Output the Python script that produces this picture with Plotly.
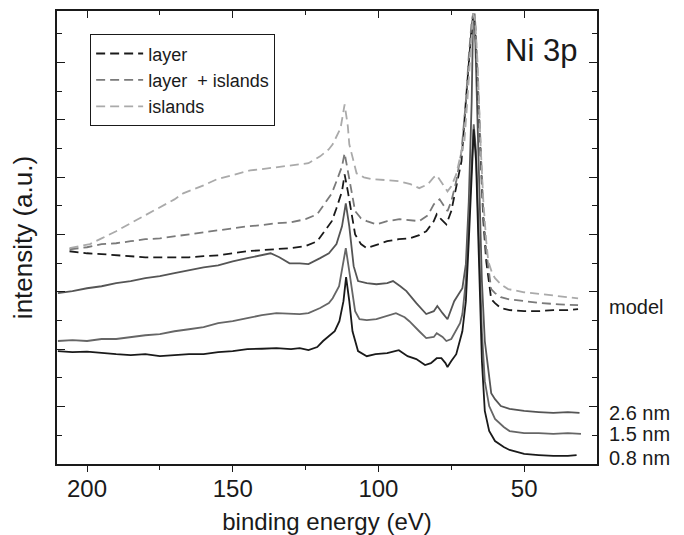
import plotly.graph_objects as go

# ---------------- data (binding energy in eV, intensity in a.u.) ----------------
E_08 = [210, 205, 200, 195, 190, 185, 180, 175, 170, 165, 160, 155, 150, 145, 140, 135, 130, 127, 124, 121,
        119, 117, 115, 113.4, 112, 111.1, 110, 108.9, 107, 104, 101, 97, 93, 90, 87, 84, 82, 80, 78.4, 77,
        76.3, 75, 73.3, 71.2, 70, 69, 68, 67.3, 66.5, 65.5, 64.5, 63.5, 62, 60, 57, 55, 50, 45, 40, 35, 32]
I_08 = [3.94, 3.90, 3.92, 3.87, 3.83, 3.80, 3.83, 3.76, 3.80, 3.83, 3.83, 3.90, 3.94, 4.01, 4.02, 4.04, 4.01, 4.04, 3.97, 4.08,
        4.29, 4.46, 4.63, 4.98, 5.68, 6.52, 5.68, 4.63, 3.94, 3.76, 3.83, 3.87, 3.97, 3.76, 3.66, 3.45, 3.52, 3.69, 3.69, 3.52,
        3.38, 3.59, 3.83, 4.63, 5.68, 7.77, 10.21, 11.67, 10.56, 7.07, 3.59, 1.85, 1.15, 0.80, 0.59, 0.49, 0.35, 0.31, 0.28, 0.28, 0.31]

E_15 = [210, 205, 200, 195, 190, 185, 180, 175, 170, 165, 160, 155, 150, 145, 140, 135, 130, 127, 124, 120,
        117, 115.7, 113.5, 112.7, 111.2, 110, 108, 106.5, 104, 100.7, 97, 94, 91, 89.4, 86, 83.6, 81, 80, 78, 76.7,
        75, 74, 72, 71.2, 70, 69, 68, 67.3, 66.5, 65.5, 64.5, 63.5, 62, 60, 57, 55, 50, 45, 40, 35, 30.5]
I_15 = [4.29, 4.32, 4.29, 4.36, 4.36, 4.43, 4.49, 4.53, 4.63, 4.70, 4.77, 4.91, 4.98, 5.09, 5.19, 5.26, 5.23, 5.23, 5.26, 5.44,
        5.61, 5.78, 6.20, 6.72, 7.53, 6.72, 5.33, 5.05, 5.02, 5.05, 5.16, 5.26, 5.12, 4.98, 4.63, 4.39, 4.43, 4.56, 4.43, 4.29,
        4.36, 4.53, 4.91, 5.23, 6.38, 8.47, 10.56, 11.85, 10.91, 7.77, 4.63, 2.89, 2.02, 1.57, 1.29, 1.15, 1.08, 1.08, 1.05, 1.08, 1.05]

E_26 = [210, 205, 200, 195, 190, 185, 180, 175, 170, 165, 160, 155, 150, 145, 140, 137, 134, 130.5, 127, 124,
        120, 117, 114.4, 112.5, 111.2, 110, 108.5, 107, 104, 100.7, 97, 95, 92.5, 90.4, 87, 83.6, 81, 79.8, 78, 76.3,
        74, 71.2, 70, 69, 68, 67.5, 67, 66.2, 65.5, 64.5, 63.5, 62, 61.3, 60, 58, 55, 50, 45, 40, 35, 31]
I_26 = [5.96, 6.03, 6.13, 6.20, 6.31, 6.38, 6.48, 6.55, 6.66, 6.76, 6.86, 6.93, 7.07, 7.18, 7.28, 7.35, 7.21, 7.00, 7.00, 6.97,
        7.18, 7.35, 7.67, 8.29, 9.09, 8.29, 6.90, 6.38, 6.31, 6.27, 6.31, 6.38, 6.20, 6.03, 5.61, 5.23, 5.33, 5.51, 5.26, 5.05,
        5.68, 6.13, 6.97, 9.16, 12.65, 15.68, 15.68, 12.65, 9.86, 6.38, 4.29, 3.07, 2.47, 2.26, 2.02, 1.92, 1.85, 1.81, 1.78, 1.81, 1.78]

E_layer = [206, 200, 195, 190, 185, 180, 175, 170, 165, 160, 155, 150, 145, 140, 135, 130, 125, 121, 118, 116,
           114.4, 112.5, 111.6, 110.5, 108, 106, 104, 100, 97, 93, 89.4, 86, 83.6, 81, 80, 78.5, 76.7, 75, 73.3, 71.5,
           70, 69, 68, 67.5, 66.8, 66, 65, 64, 63, 62, 61.3, 60, 58, 55, 50, 45, 40, 35, 31.5]
I_layer = [7.42, 7.35, 7.32, 7.28, 7.25, 7.21, 7.21, 7.21, 7.21, 7.25, 7.28, 7.35, 7.42, 7.46, 7.49, 7.53, 7.60, 7.77, 8.19, 8.47,
           8.92, 9.51, 10.10, 9.51, 8.01, 7.67, 7.53, 7.67, 7.77, 7.84, 7.87, 7.98, 8.12, 8.47, 8.71, 8.54, 8.36, 8.82, 9.62, 10.56,
           12.65, 14.04, 15.26, 15.61, 15.26, 13.34, 10.56, 8.47, 7.07, 6.20, 5.75, 5.61, 5.44, 5.37, 5.33, 5.33, 5.37, 5.37, 5.40]

E_mix = [206, 200, 195, 190, 185, 180, 175, 170, 165, 160, 155, 150, 145, 140, 135, 130, 125, 121, 118, 116,
         114.4, 112.5, 111.6, 110.5, 108, 106, 104, 100.7, 97, 92.8, 89, 86, 83, 81, 79, 77.5, 76.3, 75, 73.3, 71.5,
         70, 69, 68, 67.5, 66.8, 66, 65, 64, 63, 62, 61.3, 60, 58, 55.5, 50, 44, 38, 31.5]
I_mix = [7.49, 7.56, 7.67, 7.70, 7.77, 7.84, 7.87, 7.94, 8.01, 8.08, 8.15, 8.22, 8.29, 8.33, 8.40, 8.43, 8.54, 8.71, 9.16, 9.44,
         9.86, 10.38, 10.84, 10.21, 8.82, 8.57, 8.47, 8.36, 8.47, 8.54, 8.50, 8.47, 8.68, 9.06, 9.23, 8.99, 8.82, 9.16, 9.86, 10.91,
         12.65, 14.22, 15.44, 15.71, 15.44, 13.69, 10.91, 8.82, 7.42, 6.55, 6.10, 5.96, 5.82, 5.75, 5.68, 5.61, 5.57, 5.54]

E_isl = [206, 203, 199, 195, 190, 185, 180, 175, 170, 167, 160, 155.5, 150, 144, 138, 133, 128, 124, 120, 117,
         115.7, 114, 113, 111.6, 110.5, 110, 108.5, 107.5, 105, 102, 97, 92.8, 89, 86, 83, 81, 80, 78, 76.3, 75,
         73.3, 71.5, 70.5, 69.5, 68.5, 67.5, 66.8, 66, 65, 64, 63, 62.3, 61, 60, 58, 55.5, 50, 44, 38, 31.5]
I_isl = [7.53, 7.60, 7.67, 7.87, 8.12, 8.40, 8.68, 8.95, 9.23, 9.44, 9.72, 9.93, 10.07, 10.24, 10.31, 10.38, 10.45, 10.49, 10.73, 10.98,
         11.15, 11.50, 11.71, 12.54, 11.78, 11.15, 10.56, 10.14, 10.00, 9.93, 9.90, 9.86, 9.76, 9.62, 9.76, 10.00, 10.07, 9.79, 9.51, 9.69,
         10.10, 10.91, 11.25, 12.65, 14.39, 15.71, 15.44, 14.04, 11.25, 9.16, 7.77, 7.07, 6.66, 6.48, 6.27, 6.10, 5.99, 5.92, 5.85, 5.78]

legend_names = ["layer", "layer  + islands", "islands"]
side_labels = ["model", "2.6 nm", "1.5 nm", "0.8 nm"]
side_label_y = [5.47, 1.78, 1.05, 0.21]
x_ticks = [200, 150, 100, 50]
x_minor = [175, 125, 75]

FONT = "Liberation Sans, Arial, sans-serif"
INK = "#1a1a1a"

fig = go.Figure()

solid = [(E_26, I_26, "#555555"), (E_15, I_15, "#666666"), (E_08, I_08, INK)]
for ex, iy, col in solid:
    fig.add_trace(go.Scatter(x=ex, y=iy, mode="lines", showlegend=False,
                             line=dict(color=col, width=1.8)))

dashed = [(E_layer, I_layer, INK, legend_names[0]),
          (E_mix, I_mix, "#7a7a7a", legend_names[1]),
          (E_isl, I_isl, "#aaaaaa", legend_names[2])]
for ex, iy, col, nm in dashed:
    fig.add_trace(go.Scatter(x=ex, y=iy, mode="lines", name=nm,
                             line=dict(color=col, width=1.8, dash="9px,5px")))

XR = [210.3, 25]
YR = [0, 15.8]

# the page body adds an 8 px offset, so the figure is sized to fit the window
fig.update_layout(
    width=676, height=527,
    margin=dict(l=49, r=87, t=3, b=71),
    paper_bgcolor="white", plot_bgcolor="white",
    font=dict(family=FONT, size=20, color=INK),
    showlegend=True,
    legend=dict(x=0.061, y=0.949, xanchor="left", yanchor="top",
                bordercolor=INK, borderwidth=1.2, bgcolor="white",
                font=dict(size=18), tracegroupgap=0, itemwidth=47),
    xaxis=dict(range=XR, tickvals=x_ticks, ticks="outside", ticklen=6, tickwidth=1.3,
               tickcolor=INK, showline=True, linecolor=INK, linewidth=1.6,
               showgrid=False, zeroline=False, mirror=False, automargin=False,
               tickfont=dict(size=24), ticklabelstandoff=-4,
               minor=dict(tickvals=x_minor, ticks="outside", ticklen=4, tickcolor=INK, tickwidth=1.3),
               title=dict(text="binding energy (eV)", font=dict(size=24), standoff=13)),
    xaxis2=dict(range=XR, matches="x", overlaying="x", side="top", tickvals=x_ticks,
                ticks="inside", ticklen=7, tickwidth=1.3, tickcolor=INK, automargin=False,
                showticklabels=False, showline=True, linecolor=INK, linewidth=1.6,
                showgrid=False, zeroline=False,
                minor=dict(tickvals=x_minor, ticks="inside", ticklen=4, tickcolor=INK, tickwidth=1.3)),
    yaxis=dict(range=YR, tick0=0, dtick=2, ticks="inside", ticklen=8, tickwidth=1.3,
               tickcolor=INK, showticklabels=False, showline=True, linecolor=INK,
               linewidth=1.6, mirror="ticks", showgrid=False, zeroline=False, automargin=False,
               minor=dict(tick0=1, dtick=2, ticks="inside", ticklen=5, tickcolor=INK, tickwidth=1.3),
               title=dict(text="intensity (a.u.)", font=dict(size=26), standoff=23)),
)

# invisible trace so the top axis is drawn
fig.add_trace(go.Scatter(x=[XR[0]], y=[0], xaxis="x2", mode="markers",
                         marker=dict(opacity=0), showlegend=False, hoverinfo="skip"))

for txt, yv in zip(side_labels, side_label_y):
    fig.add_annotation(x=1.018, xref="paper", y=yv, yref="y", text=txt, showarrow=False,
                       xanchor="left", yanchor="middle", font=dict(size=20, color=INK))

fig.add_annotation(x=0.967, xref="paper", y=0.912, yref="paper", text="Ni 3p", showarrow=False,
                   xanchor="right", yanchor="middle", font=dict(size=31, color=INK))

fig.write_html("out.html")
